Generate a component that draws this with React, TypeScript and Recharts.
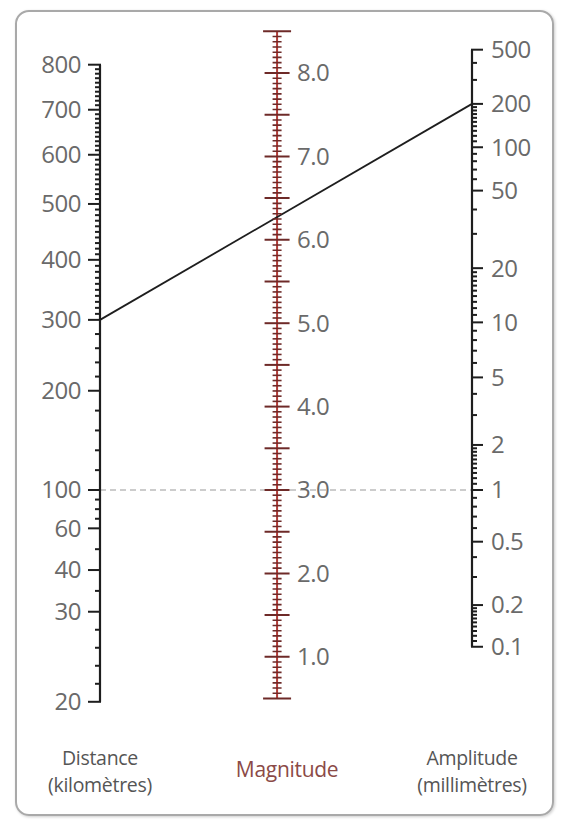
import React from 'react';
import { ComposedChart, XAxis, YAxis, Line, Scatter, ReferenceLine } from 'recharts';

// Richter nomogram. Every scale is placed on the common vertical axis in
// "magnitude units": the level is where a label sits against the centre scale.
const distanceLabels = [800, 700, 600, 500, 400, 300, 200, 100, 60, 40, 30, 20];
const distanceLevels = [8.1, 7.56, 7.02, 6.43, 5.76, 5.04, 4.19, 3.0, 2.54, 2.04, 1.54, 0.46];
const distanceSteps = [10, 10, 10, 10, 10, 20, 20, 10, 10, 5, 2]; // minor tick spacing (km) per interval

const amplitudeLabels = [500, 200, 100, 50, 20, 10, 5, 2, 1, 0.5, 0.2, 0.1];
const amplitudeLevels = [8.28, 7.63, 7.11, 6.59, 5.66, 5.01, 4.35, 3.54, 3.0, 2.38, 1.62, 1.12];
const amplitudeSteps = [100, 10, 10, 10, 1, 1, 1, 0.1, 0.1, 0.1, 0.01]; // minor tick spacing (mm)

const magnitudeLabels = [1, 2, 3, 4, 5, 6, 7, 8];
const magnitudeRange = [0.5, 8.5];
const magnitudeMajorStep = 0.5;
const magnitudeMinorStep = 0.0625;

const reading = { distance: 300, amplitude: 200 };
const referenceLevel = 3; // 100 km + 1 mm -> M 3.0

const columnTitles = [['Distance', '(kilomètres)'], ['Magnitude'], ['Amplitude', '(millimètres)']];

const MAG_X = 0.476; // centre scale position between the two outer scales
const FONT = "'Open Sans', 'Noto Sans', sans-serif";
const INK = '#1e1e1e';
const LABEL = '#6a6a6a';
const MAG_LINE = '#b33b37';
const MAG_TICK = '#6e2a28';

type Tick = { level: number; label?: string; major: boolean };

function buildTicks(labels: number[], levels: number[], steps: number[], log: boolean): Tick[] {
  const out: Tick[] = [];
  labels.forEach((v, i) => {
    out.push({ level: levels[i], label: String(v), major: true });
    if (i >= steps.length) return;
    const lo = labels[i + 1];
    const n = Math.round((v - lo) / steps[i]);
    for (let k = 1; k < n; k++) {
      const w = v - k * steps[i];
      const t = log
        ? (Math.log10(v) - Math.log10(w)) / (Math.log10(v) - Math.log10(lo))
        : (v - w) / (v - lo);
      out.push({ level: levels[i] + t * (levels[i + 1] - levels[i]), major: false });
    }
  });
  return out;
}

const distanceTicks = buildTicks(distanceLabels, distanceLevels, distanceSteps, false);
const amplitudeTicks = buildTicks(amplitudeLabels, amplitudeLevels, amplitudeSteps, true);
const distanceMap = new Map(distanceTicks.map((t) => [t.level, t]));
const amplitudeMap = new Map(amplitudeTicks.map((t) => [t.level, t]));

const levelOf = (labels: number[], levels: number[], v: number) => levels[labels.indexOf(v)];

const magnitudeMarks: { x: number; y: number; major: boolean; cap: boolean; label?: string }[] = [];
{
  const n = Math.round((magnitudeRange[1] - magnitudeRange[0]) / magnitudeMinorStep);
  const per = Math.round(magnitudeMajorStep / magnitudeMinorStep);
  for (let k = 0; k <= n; k++) {
    const m = magnitudeRange[0] + k * magnitudeMinorStep;
    const lab = magnitudeLabels.find((l) => Math.abs(l - m) < 1e-6);
    magnitudeMarks.push({
      x: MAG_X,
      y: m,
      major: k % per === 0,
      cap: k === 0 || k === n,
      label: lab !== undefined ? lab.toFixed(1) : undefined,
    });
  }
}

const readingLine = [
  { x: 0, y: levelOf(distanceLabels, distanceLevels, reading.distance) },
  { x: 1, y: levelOf(amplitudeLabels, amplitudeLevels, reading.amplitude) },
];

const DistanceTick = (props: any) => {
  const { x, y, payload } = props;
  const t = distanceMap.get(payload.value);
  if (!t) return null;
  return (
    <g>
      <line x1={x + 1} x2={x - (t.major ? 12 : 5)} y1={y} y2={y} stroke={INK} strokeWidth={2} />
      {t.label && (
        <text x={x - 19} y={y} dy="0.35em" textAnchor="end" fill={LABEL} fontSize={24} fontFamily={FONT} letterSpacing={-0.5}>
          {t.label}
        </text>
      )}
    </g>
  );
};

const AmplitudeTick = (props: any) => {
  const { x, y, payload } = props;
  const t = amplitudeMap.get(payload.value);
  if (!t) return null;
  return (
    <g>
      <line x1={x - 1} x2={x + (t.major ? 11 : 5)} y1={y} y2={y} stroke={INK} strokeWidth={2} />
      {t.label && (
        <text x={x + 19} y={y} dy="0.35em" textAnchor="start" fill={LABEL} fontSize={24} fontFamily={FONT} letterSpacing={-0.5}>
          {t.label}
        </text>
      )}
    </g>
  );
};

const MagnitudeMark = (props: any) => {
  const { cx, cy, payload } = props;
  const half = payload.cap ? 14 : payload.major ? 12.5 : 4.5;
  return (
    <g>
      <line x1={cx - half} x2={cx + half} y1={cy} y2={cy} stroke={MAG_TICK} strokeWidth={payload.major ? 2 : 1.6} />
      {payload.label && (
        <text x={cx + 20} y={cy} dy="0.35em" fill={LABEL} fontSize={24} fontFamily={FONT} letterSpacing={-0.5}>
          {payload.label}
        </text>
      )}
    </g>
  );
};

const ColumnTitle = (props: any) => {
  const { x, y, index } = props;
  const lines = columnTitles[index] || [];
  const isMag = lines.length === 1;
  return (
    <g>
      {lines.map((s, i) => (
        <text
          key={s}
          x={x + (isMag ? 10 : 0)}
          y={y + (isMag ? 70 : 58 + i * 27)}
          textAnchor="middle"
          fill={isMag ? '#8b4a47' : '#555'}
          fontSize={isMag ? 21 : 19.5}
          fontFamily={FONT}
          letterSpacing={-0.3}
        >
          {s}
        </text>
      ))}
    </g>
  );
};

export default function App() {
  return (
    <div style={{ position: 'absolute', left: 0, top: 0, width: 565, height: 823, background: '#fff' }}>
      <div
        style={{
          position: 'absolute',
          left: 15,
          top: 10,
          width: 535,
          height: 802,
          border: '2px solid #a9a9a9',
          borderRadius: 14,
          boxShadow: '1px 1px 3px rgba(0,0,0,0.2)',
        }}
      />
      <div style={{ position: 'absolute', left: 0, top: 0 }}>
        <ComposedChart width={565} height={823} margin={{ top: 23, right: 3, bottom: 16.2, left: 10 }}>
          <XAxis
            type="number"
            dataKey="x"
            domain={[0, 1]}
            allowDataOverflow
            ticks={[0, MAG_X, 1]}
            interval={0}
            height={100}
            tick={ColumnTitle}
            tickLine={false}
            axisLine={false}
            tickSize={0}
            tickMargin={0}
          />
          <YAxis
            yAxisId="dist"
            orientation="left"
            width={90}
            type="number"
            dataKey="y"
            domain={[0.4, 8.6]}
            allowDataOverflow
            ticks={distanceTicks.map((t) => t.level)}
            interval={0}
            tick={DistanceTick}
            tickLine={false}
            axisLine={false}
            tickSize={0}
            tickMargin={0}
          />
          <YAxis
            yAxisId="amp"
            orientation="right"
            width={90}
            type="number"
            dataKey="y"
            domain={[0.4, 8.6]}
            allowDataOverflow
            ticks={amplitudeTicks.map((t) => t.level)}
            interval={0}
            tick={AmplitudeTick}
            tickLine={false}
            axisLine={false}
            tickSize={0}
            tickMargin={0}
          />
          <ReferenceLine
            yAxisId="dist"
            y={referenceLevel}
            stroke="#9a9a9a"
            strokeWidth={1.2}
            strokeDasharray="6 4"
          />
          <ReferenceLine
            yAxisId="dist"
            segment={[
              { x: 0, y: distanceLevels[distanceLevels.length - 1] },
              { x: 0, y: distanceLevels[0] },
            ]}
            stroke={INK}
            strokeWidth={2.2}
            ifOverflow="visible"
          />
          <ReferenceLine
            yAxisId="dist"
            segment={[
              { x: 1, y: amplitudeLevels[amplitudeLevels.length - 1] },
              { x: 1, y: amplitudeLevels[0] },
            ]}
            stroke={INK}
            strokeWidth={2.2}
            ifOverflow="visible"
          />
          <ReferenceLine
            yAxisId="dist"
            segment={[
              { x: MAG_X, y: magnitudeRange[0] },
              { x: MAG_X, y: magnitudeRange[1] },
            ]}
            stroke={MAG_LINE}
            strokeWidth={2}
            ifOverflow="visible"
          />
          <Scatter
            yAxisId="dist"
            data={magnitudeMarks}
            dataKey="y"
            shape={MagnitudeMark}
            isAnimationActive={false}
          />
          <Line
            yAxisId="dist"
            data={readingLine}
            dataKey="y"
            type="linear"
            stroke={INK}
            strokeWidth={1.8}
            dot={false}
            activeDot={false}
            isAnimationActive={false}
          />
        </ComposedChart>
      </div>
    </div>
  );
}
